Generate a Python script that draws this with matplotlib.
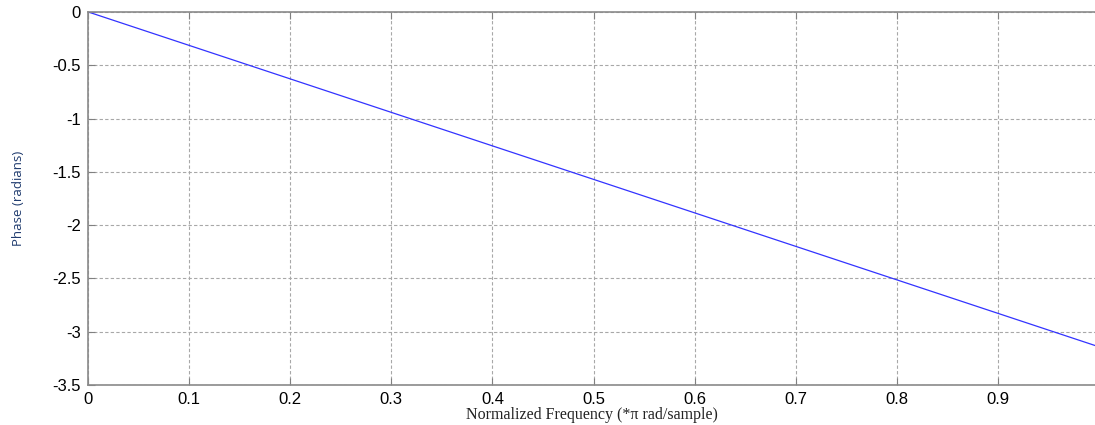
import matplotlib.pyplot as plt

# Linear phase response (endpoints)
freq = [0.0, 0.996]
phase = [0.0, -3.129]

xticks = [0, 0.1, 0.2, 0.3, 0.4, 0.5, 0.6, 0.7, 0.8, 0.9]
xticklabels = ['0', '0.1', '0.2', '0.3', '0.4', '0.5', '0.6', '0.7', '0.8', '0.9']
yticks = [0, -0.5, -1, -1.5, -2, -2.5, -3, -3.5]
yticklabels = ['0', '-0.5', '-1', '-1.5', '-2', '-2.5', '-3', '-3.5']

fig = plt.figure(figsize=(10.95, 4.25), dpi=100)
ax = fig.add_axes([0.0804, 0.094, 0.9196, 0.878])

ax.plot(freq, phase, color='#3333ff', linewidth=0.9)

ax.set_xlim(0, 0.996)
ax.set_ylim(-3.5, 0)
ax.set_xticks(xticks)
ax.set_xticklabels(xticklabels)
ax.set_yticks(yticks)
ax.set_yticklabels(yticklabels)

ax.grid(True, color='#a8a8a8', linestyle=(0, (3, 2)), linewidth=0.8)
ax.tick_params(direction='in', length=5, color='#808080', top=True,
               labelsize=12, pad=5)
for lab in ax.get_xticklabels() + ax.get_yticklabels():
    lab.set_family('Liberation Sans')

for side in ['left', 'bottom', 'top']:
    ax.spines[side].set_color('#8a8a8a')
    ax.spines[side].set_linewidth(1.2)
ax.spines['right'].set_visible(False)

ax.set_xlabel('Normalized Frequency (*\u03c0 rad/sample)', family='Liberation Serif',
              fontsize=11.5, color='#222222', labelpad=0)
ax.set_ylabel('Phase (radians)', family='Open Sans', fontsize=9.5,
              color='#1f3b6e', labelpad=20)

fig.savefig('out.png', dpi=100)
